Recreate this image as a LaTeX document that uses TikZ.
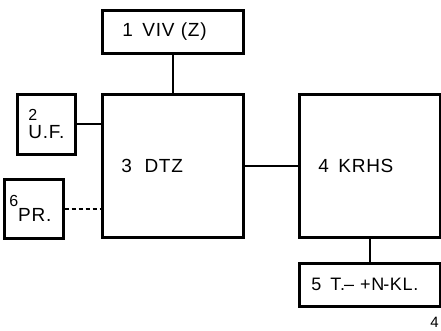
\documentclass[tikz,border=0pt]{standalone}
\usepackage{fontspec}
\setmainfont[LetterSpace=4]{Liberation Sans}
\usetikzlibrary{positioning}
\tikzset{
  blk/.style={draw,line width=2.6pt,inner xsep=0pt,inner ysep=0pt,align=left,anchor=north west,font=\fontsize{19}{20}\selectfont},
  conn/.style={line width=1.8pt},
}

\begin{document}
\begin{tikzpicture}[x=1pt,y=-1pt]
\useasboundingbox (0,0) rectangle (441,330);
\node[blk,minimum width=141pt,minimum height=43pt,text width=101pt] (viv) at (101,9) {1 \,VIV (Z)};
\node[blk,minimum width=141pt,minimum height=143pt,text width=103pt] (dtz) at (101,93) {3 \ DTZ};
\node[blk,minimum width=141pt,minimum height=143pt,text width=103pt] (krhs) at (298,93) {4 \,KRHS};
\node[blk,minimum width=141pt,minimum height=43pt,text width=117pt,font=\fontsize{18}{20}\selectfont] (tn) at (298,262) {\mbox{5 \,T.\kern-1pt– +N\kern-1pt-KL.}};
\node[blk,minimum width=58pt,minimum height=60pt,text width=36pt,font=\fontsize{19}{18}\selectfont] (uf) at (16,93) {{\fontsize{16}{16}\selectfont 2}\\U.F.};
\node[blk,minimum width=59pt,minimum height=59pt,text width=49pt] (pr) at (3,178) {\raisebox{15pt}{\fontsize{16}{16}\selectfont 6}PR.};
\draw[conn] (viv) -- (dtz);
\draw[conn] (uf.east) -- (uf.east -| dtz.west);
\draw[conn,dash pattern=on 4pt off 3pt] (pr.east) -- (pr.east -| dtz.west);
\draw[conn] (dtz) -- (krhs);
\draw[conn] (krhs) -- (tn);
\node[anchor=south east,inner sep=2pt,font=\fontsize{15}{15}\selectfont] (fignum) at (441,330) {4};
\end{tikzpicture}
\end{document}
